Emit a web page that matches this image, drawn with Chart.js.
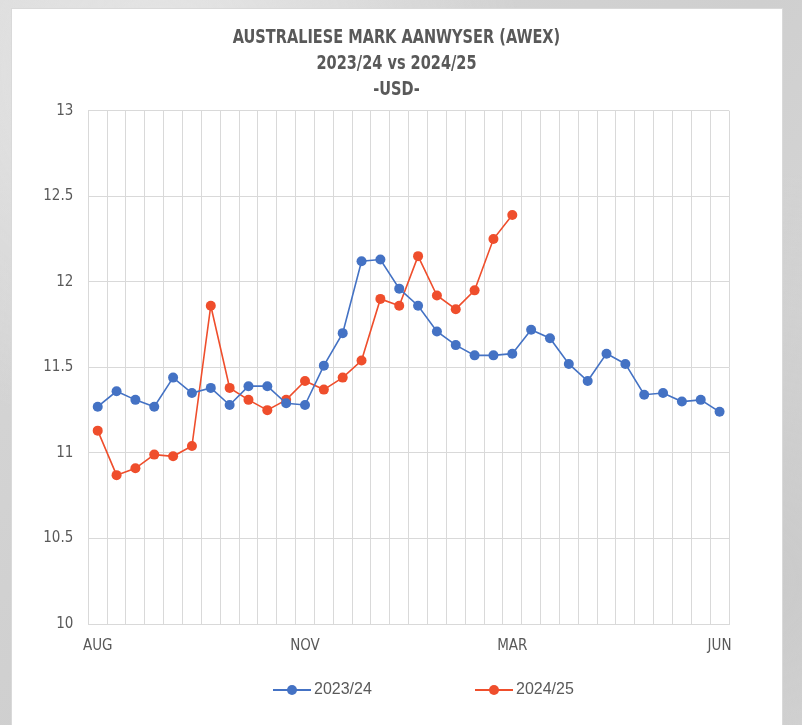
<!DOCTYPE html>
<html>
<head>
<meta charset="utf-8">
<title>Australiese Mark Aanwyser (AWEX)</title>
<script src="https://cdn.jsdelivr.net/npm/chart.js@4.4.1/dist/chart.umd.min.js"></script>
<style>
    html, body {
        margin: 0;
        padding: 0;
        width: 802px;
        height: 725px;
        overflow: hidden;
    }
    body {
        background:
            radial-gradient(ellipse at 20% 10%, #e6e6e6 0%, rgba(230,230,230,0) 40%),
            radial-gradient(ellipse at 90% 80%, #c9c9c9 0%, rgba(201,201,201,0) 50%),
            linear-gradient(135deg, #d8d8d8 0%, #cfcfcf 50%, #dcdcdc 100%);
    }
    #panel {
        position: absolute;
        left: 11px;
        top: 8px;
        width: 770px;
        height: 730px;
        background: #ffffff;
        border: 1px solid #d9d9d9;
    }
    #wrap {
        position: absolute;
        left: 0;
        top: 0;
        width: 802px;
        height: 725px;
    }
</style>
</head>
<body>
<div id="panel"></div>
<div id="wrap"><canvas id="awexChart"></canvas></div>

<script>
// Chart data (weekly AWEX indicator, USD)
const categories = [
    'AUG', '', '', '', '', '', '', '', '', '', '',
    'NOV', '', '', '', '', '', '', '', '', '', '',
    'MAR', '', '', '', '', '', '', '', '', '', '',
    'JUN'
];
const season2324 = [
    11.27, 11.36, 11.31, 11.27, 11.44, 11.35, 11.38, 11.28, 11.39, 11.39, 11.29,
    11.28, 11.51, 11.70, 12.12, 12.13, 11.96, 11.86, 11.71, 11.63, 11.57, 11.57,
    11.58, 11.72, 11.67, 11.52, 11.42, 11.58, 11.52, 11.34, 11.35, 11.30, 11.31,
    11.24
];
const season2425 = [
    11.13, 10.87, 10.91, 10.99, 10.98, 11.04, 11.86, 11.38, 11.31, 11.25, 11.31,
    11.42, 11.37, 11.44, 11.54, 11.90, 11.86, 12.15, 11.92, 11.84, 11.95, 12.25,
    12.39, null, null, null, null, null, null, null, null, null, null,
    null
];
const seriesLabels = ['2023/24', '2024/25'];
const titleLines = ['AUSTRALIESE MARK AANWYSER (AWEX)', '2023/24 vs 2024/25', '-USD-'];

const BLUE = '#4472C4';
const RED = '#EF4E2C';
const TEXT_GREY = '#595959';
const GRID_GREY = '#d9d9d9';
const NARROW = "'Liberation Sans Narrow', 'Arial Narrow', 'DejaVu Sans Condensed', sans-serif";
const REGULAR = "'Liberation Sans', Arial, sans-serif";

/**
 * Title drawn centred on the white panel, squeezed to a narrow face
 */
const panelTitle = {
    id: 'panelTitle',
    afterDraw(chart) {
        const ctx = chart.ctx;
        const centerX = 396.5;
        const squeeze = 0.85;
        ctx.save();
        ctx.font = 'bold 19px ' + NARROW;
        ctx.fillStyle = TEXT_GREY;
        ctx.textAlign = 'center';
        ctx.textBaseline = 'alphabetic';
        ctx.translate(centerX, 0);
        ctx.scale(squeeze, 1);
        titleLines.forEach((line, i) => {
            ctx.fillText(line, 0, 42.7 + i * 26);
        });
        ctx.restore();
    }
};

/**
 * Legend drawn Excel style: short line with a marker, then the label
 */
const lineLegend = {
    id: 'lineLegend',
    afterDraw(chart) {
        const ctx = chart.ctx;
        const y = 690;
        let x = 273;
        ctx.save();
        ctx.font = '16px ' + REGULAR;
        ctx.textBaseline = 'middle';
        ctx.textAlign = 'left';
        chart.data.datasets.forEach(ds => {
            ctx.strokeStyle = ds.borderColor;
            ctx.lineWidth = 2;
            ctx.beginPath();
            ctx.moveTo(x, y);
            ctx.lineTo(x + 38, y);
            ctx.stroke();
            ctx.fillStyle = ds.borderColor;
            ctx.beginPath();
            ctx.arc(x + 19, y, 5, 0, Math.PI * 2);
            ctx.fill();
            ctx.fillStyle = TEXT_GREY;
            ctx.fillText(ds.label, x + 41, y);
            x += 202;
        });
        ctx.restore();
    }
};

function makeDataset(label, data, color) {
    return {
        label: label,
        data: data,
        borderColor: color,
        backgroundColor: color,
        borderWidth: 1.6,
        pointRadius: 5,
        pointHoverRadius: 5,
        pointBackgroundColor: color,
        pointBorderColor: color,
        pointBorderWidth: 0,
        tension: 0,
        spanGaps: false
    };
}

document.addEventListener('DOMContentLoaded', function() {
    const ctx = document.getElementById('awexChart').getContext('2d');

    new Chart(ctx, {
        type: 'line',
        data: {
            labels: categories,
            datasets: [
                makeDataset(seriesLabels[0], season2324, BLUE),
                makeDataset(seriesLabels[1], season2425, RED)
            ]
        },
        options: {
            responsive: true,
            maintainAspectRatio: false,
            animation: false,
            layout: {
                padding: { left: 0, right: 73, top: 110.7, bottom: 0 }
            },
            plugins: {
                legend: { display: false },
                tooltip: { enabled: false },
                title: { display: false }
            },
            scales: {
                x: {
                    offset: true,
                    grid: {
                        offset: true,
                        color: GRID_GREY,
                        lineWidth: 1,
                        drawTicks: false
                    },
                    border: { color: GRID_GREY, width: 1 },
                    ticks: {
                        autoSkip: false,
                        maxRotation: 0,
                        padding: 13,
                        color: TEXT_GREY,
                        font: { family: NARROW, size: 15 }
                    },
                    afterFit: scale => { scale.height = 101; }
                },
                y: {
                    min: 10,
                    max: 13,
                    grid: {
                        color: GRID_GREY,
                        lineWidth: 1,
                        drawTicks: false
                    },
                    border: { display: false },
                    ticks: {
                        stepSize: 0.5,
                        padding: 15,
                        color: TEXT_GREY,
                        font: { family: NARROW, size: 15 },
                        callback: value => String(value)
                    },
                    afterFit: scale => { scale.width = 88.3; }
                }
            }
        },
        plugins: [panelTitle, lineLegend]
    });
});
</script>
</body>
</html>
